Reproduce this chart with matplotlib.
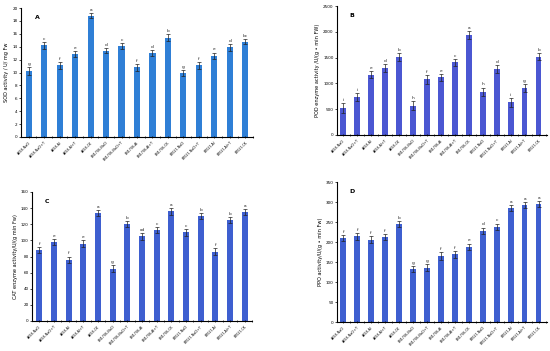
import matplotlib
matplotlib.use("Agg")
import matplotlib.pyplot as plt
import numpy as np

labels = ["AK58-NaCl", "AK58-NaCl+T", "AK58-Al", "AK58-Al+T", "AK58-CK",
          "BN1706-NaCl", "BN1706-NaCl+T", "BN1706-Al", "BN1706-Al+T", "BN1706-CK",
          "BT021-NaCl", "BT021-NaCl+T", "BT021-Al", "BT021-Al+T", "BT021-CK"]

sod = [10.2, 14.2, 11.1, 12.9, 18.8, 13.4, 14.1, 10.8, 13.0, 15.4, 9.9, 11.1, 12.6, 13.9, 14.8]
sod_err = [0.6, 0.5, 0.5, 0.5, 0.4, 0.4, 0.4, 0.5, 0.5, 0.5, 0.5, 0.5, 0.5, 0.5, 0.4]
sod_let = ["g", "c", "f", "e", "a", "d", "c", "f", "d", "b", "g", "f", "e", "d", "bc"]

pod = [520, 730, 1170, 1300, 1510, 570, 1080, 1120, 1410, 1940, 840, 1280, 630, 910, 1520]
pod_err = [100, 80, 70, 70, 70, 90, 90, 70, 70, 70, 80, 70, 90, 80, 70]
pod_let = ["i", "i", "e", "d", "b", "h", "f", "e", "c", "a", "h", "d", "i", "g", "b"]

cat = [88, 98, 76, 96, 134, 65, 120, 105, 113, 136, 110, 130, 86, 125, 135]
cat_err = [4, 4, 4, 4, 4, 4, 4, 4, 4, 4, 4, 4, 4, 4, 4]
cat_let = ["f", "e", "f", "e", "a", "g", "b", "cd", "c", "a", "c", "b", "f", "b", "a"]

ppo = [210, 214, 206, 212, 245, 132, 136, 165, 169, 188, 228, 238, 285, 292, 295]
ppo_err = [8, 8, 8, 8, 8, 8, 8, 10, 8, 8, 8, 8, 8, 8, 8]
ppo_let = ["f", "f", "f", "f", "b", "g", "g", "f", "f", "e", "d", "c", "a", "a", "a"]

W, H = 550, 351
fig = plt.figure(figsize=(5.5, 3.51), dpi=100)
fig.patch.set_facecolor("white")

def rect(l, t, r, b):
    return [l / W, (H - b) / H, (r - l) / W, (b - t) / H]

panels = [
    (rect(21, 8, 253, 137), sod, sod_err, sod_let, 20, 2, "SOD activity / U/ mg Fw", "A", "#2f7fd6", (-0.5, 14.2)),
    (rect(337, 6, 547, 135), pod, pod_err, pod_let, 2500, 500, "POD enzyme activity /U/(g • min FW)", "B", "#4b57d2", (-0.45, 14.6)),
    (rect(32, 192, 252, 321), cat, cat_err, cat_let, 160, 20, "CAT enzyme activity/U/(g min Fw)", "C", "#3e5fd0", (-0.5, 14.3)),
    (rect(337, 182, 547, 322), ppo, ppo_err, ppo_let, 350, 50, "PPO activity/U/(g • min Fw)", "D", "#3e5fd0", (-0.45, 14.6)),
]

x = np.arange(len(labels))
for pos, vals, errs, lets, ymax, step, ylab, tag, col, xl in panels:
    ax = fig.add_axes(pos)
    ax.bar(x, vals, width=0.4, color=col, yerr=errs,
           error_kw=dict(ecolor="#222222", elinewidth=0.5, capsize=1.2, capthick=0.5))
    for xi, v, e, l in zip(x, vals, errs, lets):
        ax.text(xi, v + e + ymax * 0.008, l, ha="center", va="bottom", fontsize=3.2, color="#222222")
    ax.set_ylim(0, ymax)
    ax.set_xlim(*xl)
    ax.set_yticks(np.arange(0, ymax + step / 2, step))
    ax.tick_params(axis="y", labelsize=3, length=1.5, width=0.5, pad=1)
    ax.set_xticks(x)
    ax.set_xticklabels(labels, rotation=45, ha="right", rotation_mode="anchor", fontsize=2.3)
    ax.tick_params(axis="x", length=1.2, width=0.5, pad=2, direction="inout")
    ax.set_xticks(x + 0.5, minor=True)
    ax.tick_params(axis="x", which="minor", length=1.5, width=0.5, direction="inout")
    for s in ["top", "right"]:
        ax.spines[s].set_visible(False)
    for s in ["left", "bottom"]:
        ax.spines[s].set_linewidth(0.8)
    ax.set_ylabel(ylab, fontsize=3.6, labelpad=2)
    ax.text(0.06, 0.93, tag, transform=ax.transAxes, fontsize=4.5, fontweight="bold", va="center")

fig.savefig("out.png", dpi=100)
